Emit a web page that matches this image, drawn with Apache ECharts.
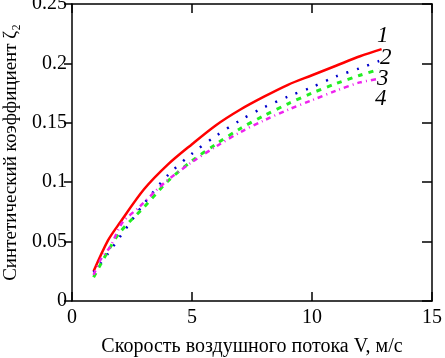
<!DOCTYPE html>
<html>
<head>
<meta charset="utf-8">
<script src="https://cdn.jsdelivr.net/npm/echarts@6/dist/echarts.min.js"></script>
<style>
  html, body { margin: 0; padding: 0; background: #fff; }
  #main { width: 445px; height: 358px; }
</style>
</head>
<body>
<div id="main"></div>
<script>
// скорость воздушного потока V, м/с  -> коэффициент для кривых 1..4
const v1 = [0.9, 1.5, 2, 3, 4, 5, 6, 7, 8, 9, 10, 11, 12, 12.9];
const z1 = [0.025, 0.051, 0.066, 0.094, 0.115, 0.132, 0.148, 0.161, 0.172, 0.182, 0.190, 0.198, 0.206, 0.212];

const v2 = [0.9, 1.5, 2, 3, 4, 5, 6, 7, 8, 9, 10, 11, 12, 12.8];
const z2 = [0.024, 0.040, 0.054, 0.082, 0.106, 0.124, 0.139, 0.152, 0.163, 0.172, 0.180, 0.189, 0.196, 0.202];

const v3 = [0.9, 1.5, 2, 3, 4, 5, 6, 7, 8, 9, 10, 11, 12, 12.8];
const z3 = [0.020, 0.042, 0.058, 0.079, 0.101, 0.118, 0.132, 0.145, 0.156, 0.166, 0.175, 0.183, 0.190, 0.195];

const v4 = [0.9, 1.2, 1.6, 2.1, 2.8, 3.5, 4, 5, 6, 7, 8, 9, 10, 11, 12, 12.8];
const z4 = [0.022, 0.035, 0.046, 0.066, 0.079, 0.093, 0.102, 0.117, 0.130, 0.142, 0.152, 0.161, 0.169, 0.177, 0.184, 0.187];

const curveNames = ['1', '2', '3', '4'];
const xTicks = [0, 5, 10, 15];
const yTicks = [0, 0.05, 0.1, 0.15, 0.2, 0.25];

const FONT = '"Liberation Serif", "Times New Roman", serif';

function pairs(xs, ys) {
  return xs.map((x, i) => [x, ys[i]]);
}

const chart = echarts.init(document.getElementById('main'));

const axisLine = { show: true, onZero: false, lineStyle: { color: '#000', width: 1.5 } };

chart.setOption({
  animation: false,
  backgroundColor: '#fff',
  grid: { left: 72, right: 13, top: 4, bottom: 57, outerBoundsMode: 'none', containLabel: false },
  xAxis: [
    {
      type: 'value',
      min: xTicks[0],
      max: xTicks[xTicks.length - 1],
      interval: 5,
      position: 'bottom',
      name: 'Скорость воздушного потока V, м/с',
      nameLocation: 'middle',
      nameGap: 36,
      nameTextStyle: { fontFamily: FONT, fontSize: 20, color: '#000' },
      axisLine: axisLine,
      axisTick: { inside: true, length: 9, lineStyle: { color: '#000', width: 1.5 } },
      axisLabel: { fontFamily: FONT, fontSize: 20, color: '#000', margin: 7 },
      splitLine: { show: false }
    },
    {
      type: 'value',
      min: xTicks[0],
      max: xTicks[xTicks.length - 1],
      interval: 5,
      position: 'top',
      axisLine: axisLine,
      axisTick: { inside: true, length: 9, lineStyle: { color: '#000', width: 1.5 } },
      axisLabel: { show: false },
      splitLine: { show: false }
    }
  ],
  yAxis: [
    {
      type: 'value',
      min: 0,
      max: 0.25,
      interval: 0.05,
      position: 'left',
      name: 'Синтетический коэффициент ζ₂',
      nameLocation: 'middle',
      nameGap: 51,
      nameTextStyle: { fontFamily: FONT, fontSize: 19, color: '#000' },
      axisLine: axisLine,
      axisTick: { inside: false, length: 8, lineStyle: { color: '#000', width: 1.5 } },
      axisLabel: { fontFamily: FONT, fontSize: 20, color: '#000', margin: 5 },
      splitLine: { show: false }
    },
    {
      type: 'value',
      min: 0,
      max: 0.25,
      interval: 0.05,
      position: 'right',
      axisLine: axisLine,
      axisTick: { inside: true, length: 10, lineStyle: { color: '#000', width: 1.5 } },
      axisLabel: { show: false },
      splitLine: { show: false }
    }
  ],
  series: [
    {
      name: curveNames[0], type: 'line', data: pairs(v1, z1), smooth: 0.3,
      showSymbol: false, lineStyle: { color: '#ff0000', width: 2.5, type: 'solid' }
    },
    {
      name: curveNames[1], type: 'line', data: pairs(v2, z2), smooth: 0.3,
      showSymbol: false, lineStyle: { color: '#0000cc', width: 2.5, type: [2, 9] }
    },
    {
      name: curveNames[2], type: 'line', data: pairs(v3, z3), smooth: 0.3,
      showSymbol: false, lineStyle: { color: '#22ee22', width: 3, type: [5, 6] }
    },
    {
      name: curveNames[3], type: 'line', data: pairs(v4, z4), smooth: 0.3,
      showSymbol: false, lineStyle: { color: '#ee22ee', width: 2.5, type: [5, 4, 1, 4] }
    }
  ],
  graphic: [
    { type: 'text', left: 377, top: 24, style: { text: curveNames[0], font: 'italic 23px "Liberation Serif", serif', fill: '#000' } },
    { type: 'text', left: 380, top: 46, style: { text: curveNames[1], font: 'italic 23px "Liberation Serif", serif', fill: '#000' } },
    { type: 'text', left: 377, top: 67, style: { text: curveNames[2], font: 'italic 23px "Liberation Serif", serif', fill: '#000' } },
    { type: 'text', left: 375, top: 87, style: { text: curveNames[3], font: 'italic 23px "Liberation Serif", serif', fill: '#000' } }
  ]
});
</script>
</body>
</html>
